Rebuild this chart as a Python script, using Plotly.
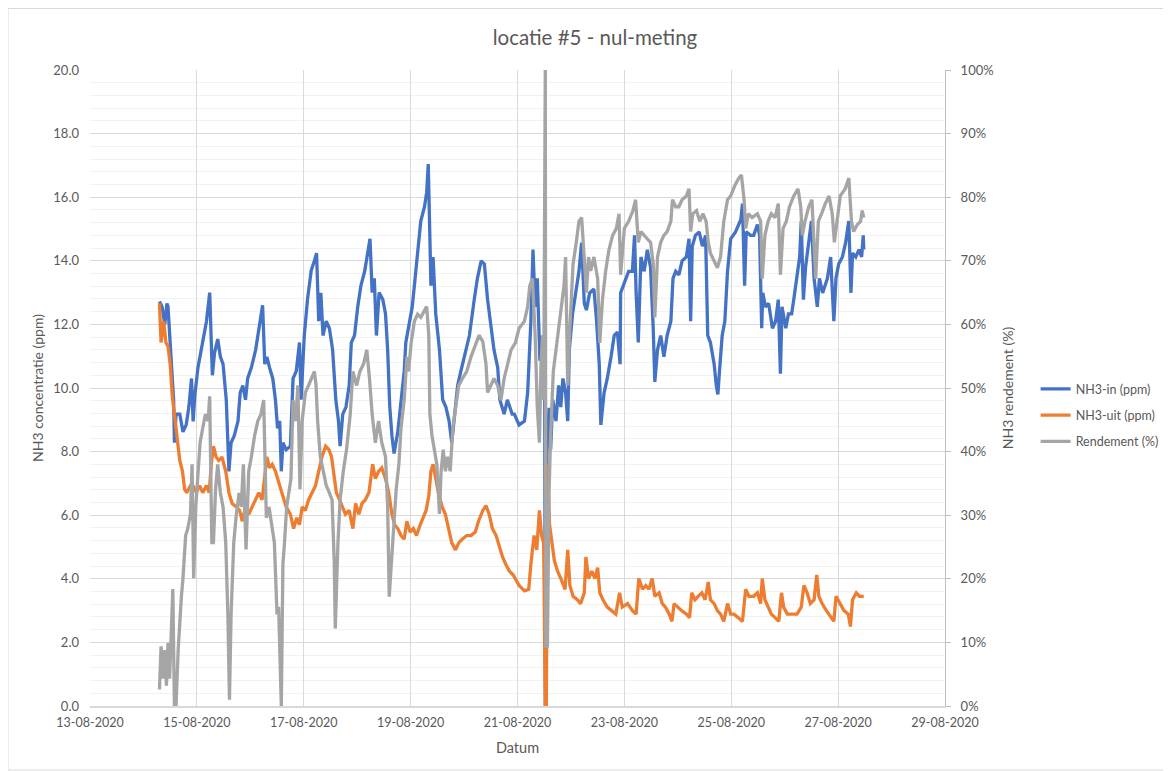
import plotly.graph_objects as go
from datetime import datetime, timedelta

# Time given as fractional day of August 2020
dag_in = [14.30, 14.35, 14.40, 14.44, 14.46, 14.50, 14.54, 14.565, 14.58, 14.61, 14.68, 14.74, 14.80, 14.85, 14.90, 14.93, 14.96,
          15.02, 15.11, 15.18, 15.24, 15.27, 15.29, 15.33, 15.39, 15.44, 15.49, 15.55, 15.60, 15.64, 15.70, 15.77, 15.81, 15.86,
          15.91, 15.95, 16.02, 16.10, 16.17, 16.23, 16.27, 16.31, 16.36, 16.42, 16.47, 16.51, 16.55, 16.58, 16.61, 16.67, 16.75,
          16.80, 16.86, 16.92, 16.95, 17.01, 17.07, 17.14, 17.20, 17.24, 17.28, 17.32, 17.36, 17.42, 17.48, 17.54, 17.60, 17.65,
          17.68, 17.73, 17.79, 17.85, 17.89, 17.95, 18.01, 18.07, 18.14, 18.18, 18.24, 18.28, 18.32, 18.36, 18.41, 18.48, 18.53,
          18.57, 18.61, 18.65, 18.69, 18.76, 18.82, 18.88, 18.91, 18.98, 19.03, 19.07, 19.13, 19.19, 19.26, 19.30, 19.33, 19.36,
          19.38, 19.42, 19.47, 19.54, 19.60, 19.66, 19.72, 19.77, 19.82, 19.88, 19.94, 20.00, 20.10, 20.19, 20.25, 20.32, 20.38,
          20.44, 20.50, 20.56, 20.63, 20.67, 20.75, 20.81, 20.90, 20.94, 21.03, 21.13, 21.19, 21.25, 21.29, 21.33, 21.37, 21.42,
          21.47, 21.51, 21.52, 21.55, 21.59, 21.62, 21.66, 21.72, 21.77, 21.81, 21.85, 21.90, 21.94, 21.97, 22.03, 22.09, 22.15,
          22.20, 22.25, 22.29, 22.35, 22.43, 22.48, 22.53, 22.56, 22.62, 22.68, 22.75, 22.81, 22.87, 22.92, 22.93, 23.00, 23.08,
          23.15, 23.19, 23.22, 23.26, 23.31, 23.37, 23.43, 23.49, 23.54, 23.57, 23.62, 23.68, 23.74, 23.80, 23.87, 23.91, 23.96,
          24.02, 24.08, 24.16, 24.21, 24.24, 24.27, 24.33, 24.40, 24.46, 24.52, 24.56, 24.61, 24.68, 24.72, 24.75, 24.78, 24.83,
          24.88, 24.93, 24.99, 25.08, 25.18, 25.21, 25.25, 25.28, 25.36, 25.42, 25.49, 25.53, 25.57, 25.59, 25.64, 25.70, 25.77,
          25.83, 25.88, 25.92, 25.95, 26.02, 26.07, 26.13, 26.17, 26.23, 26.28, 26.31, 26.35, 26.39, 26.45, 26.50, 26.55, 26.61,
          26.65, 26.71, 26.80, 26.86, 26.92, 26.96, 27.01, 27.08, 27.14, 27.20, 27.24, 27.27, 27.33, 27.39, 27.44, 27.47, 27.48]
nh3_in = [12.72, 12.55, 12.0, 12.66, 12.55, 11.2, 10.3, 9.63, 8.28, 9.18, 9.18, 8.62, 8.84, 9.40, 10.3, 8.95, 9.74,
          10.64, 11.54, 12.1, 13.0, 11.2, 10.4, 11.1, 11.54, 10.98, 10.75, 9.63, 7.38, 8.28, 8.5, 8.96, 9.85, 10.08,
          9.63, 10.3, 10.64, 11.2, 11.99, 12.6, 10.75, 10.98, 10.64, 10.3, 9.63, 8.73, 8.96, 7.38, 8.28, 8.06, 8.17,
          10.3, 10.53, 11.43, 9.63, 11.65, 12.78, 13.7, 14.0, 14.24, 12.1, 12.99, 11.65, 12.1, 11.88, 11.2, 9.63, 8.96,
          8.17, 9.18, 9.4, 10.08, 11.43, 11.65, 12.55, 13.22, 13.67, 14.12, 14.69, 13.0, 13.45, 11.65, 13.0, 12.78, 12.33,
          11.2, 9.4, 8.5, 7.94, 8.62, 9.63, 10.53, 11.43, 12.1, 12.55, 13.22, 14.35, 15.25, 15.7, 16.15, 17.04, 15.25,
          13.22, 14.12, 12.33, 11.2, 9.63, 9.4, 8.96, 8.28, 9.18, 10.08, 10.53, 10.98, 11.65, 12.78, 13.45, 14.0, 13.9,
          12.78, 11.88, 11.2, 10.64, 9.63, 9.18, 9.63, 9.18, 9.18, 8.84, 8.96, 9.85, 12.1, 14.35, 12.55, 13.45, 10.86,
          11.65, 9.63, 0.0, 7.94, 9.38, 8.06, 9.63, 8.96, 10.08, 9.4, 10.3, 9.85, 8.96, 11.2, 12.33, 12.99, 13.67,
          14.57, 12.66, 12.45, 12.99, 13.11, 12.1, 10.75, 8.84, 9.85, 10.3, 10.98, 11.65, 11.76, 10.75, 12.99, 13.34, 13.67,
          13.67, 14.8, 12.99, 11.43, 14.12, 13.67, 14.35, 13.79, 11.88, 10.19, 11.2, 11.65, 10.98, 11.65, 12.1, 13.45, 13.67,
          13.56, 14.0, 14.12, 14.69, 12.1, 14.46, 14.8, 14.91, 14.46, 14.8, 11.65, 11.43, 10.75, 10.08, 9.8, 10.53, 11.65,
          12.1, 13.67, 14.69, 14.91, 15.3, 15.8, 13.22, 14.91, 14.8, 14.8, 15.14, 14.8, 11.88, 12.99, 12.55, 12.66, 11.88,
          12.1, 12.78, 10.45, 12.55, 11.88, 12.33, 12.33, 12.78, 13.45, 14.12, 15.25, 12.78, 13.79, 14.57, 15.25, 13.45, 12.55,
          13.45, 12.99, 13.45, 14.12, 12.1, 13.45, 13.9, 14.12, 14.57, 15.25, 12.99, 14.24, 14.12, 14.35, 14.12, 14.8, 14.35]

dag_uit = [14.30, 14.33, 14.38, 14.42, 14.46, 14.50, 14.54, 14.58, 14.63, 14.68, 14.73, 14.77, 14.81, 14.88, 14.94, 14.99,
           15.05, 15.11, 15.18, 15.23, 15.27, 15.31, 15.36, 15.41, 15.47, 15.54, 15.60, 15.66, 15.74, 15.80, 15.85, 15.91,
           15.97, 16.04, 16.10, 16.16, 16.22, 16.27, 16.31, 16.36, 16.41, 16.47, 16.55, 16.62, 16.67, 16.75, 16.81, 16.87,
           16.92, 16.97, 17.03, 17.09, 17.16, 17.22, 17.28, 17.34, 17.41, 17.47, 17.52, 17.56, 17.61, 17.67, 17.72, 17.78,
           17.85, 17.92, 17.97, 18.03, 18.09, 18.15, 18.22, 18.29, 18.34, 18.40, 18.46, 18.53, 18.59, 18.65, 18.70, 18.76,
           18.82, 18.88, 18.93, 18.99, 19.05, 19.11, 19.18, 19.24, 19.29, 19.34, 19.38, 19.42, 19.47, 19.52, 19.59, 19.65,
           19.71, 19.77, 19.84, 19.90, 19.97, 20.05, 20.13, 20.21, 20.27, 20.35, 20.41, 20.47, 20.53, 20.60, 20.66, 20.72,
           20.78, 20.85, 20.92, 20.98, 21.03, 21.13, 21.21, 21.25, 21.31, 21.36, 21.41, 21.45, 21.49, 21.52, 21.54, 21.56,
           21.60, 21.69, 21.75, 21.81, 21.89, 21.94, 21.98, 22.04, 22.12, 22.18, 22.25, 22.28, 22.33, 22.39, 22.45, 22.50,
           22.54, 22.60, 22.68, 22.76, 22.84, 22.91, 22.96, 23.06, 23.15, 23.22, 23.27, 23.34, 23.40, 23.46, 23.52, 23.57,
           23.65, 23.71, 23.77, 23.84, 23.89, 23.93, 23.99, 24.07, 24.16, 24.22, 24.26, 24.32, 24.38, 24.45, 24.51, 24.57,
           24.61, 24.68, 24.74, 24.80, 24.86, 24.93, 24.99, 25.05, 25.13, 25.21, 25.27, 25.33, 25.42, 25.49, 25.55, 25.58,
           25.63, 25.69, 25.75, 25.82, 25.89, 25.94, 25.98, 26.05, 26.14, 26.23, 26.31, 26.36, 26.42, 26.48, 26.55, 26.60,
           26.64, 26.70, 26.78, 26.86, 26.92, 26.96, 27.03, 27.11, 27.19, 27.23, 27.27, 27.34, 27.40, 27.48]
nh3_uit = [12.66, 11.43, 12.1, 11.43, 11.31, 10.75, 9.74, 9.18, 8.5, 7.72, 7.38, 6.82, 6.71, 6.93, 6.9, 6.71,
           6.93, 6.71, 6.93, 6.71, 7.6, 8.17, 7.83, 7.72, 7.83, 7.38, 6.71, 6.37, 6.26, 6.15, 5.81, 6.26,
           6.03, 6.26, 6.48, 6.71, 6.48, 7.38, 7.83, 7.49, 7.6, 7.38, 6.93, 6.48, 6.26, 6.03, 5.58, 5.92,
           5.7, 6.26, 6.15, 6.48, 6.71, 6.93, 7.38, 7.83, 8.17, 8.06, 7.83, 7.38, 6.71, 6.48, 6.26, 6.03,
           6.15, 5.58, 6.37, 6.03, 6.37, 6.48, 6.71, 7.6, 7.15, 7.38, 7.49, 7.15, 6.71, 6.03, 5.7, 5.58,
           5.36, 5.25, 5.81, 5.47, 5.58, 5.36, 5.7, 5.92, 6.15, 6.6, 7.38, 7.6, 7.15, 6.71, 6.26, 6.03,
           5.58, 5.13, 4.91, 5.13, 5.25, 5.36, 5.36, 5.47, 5.81, 6.15, 6.3, 6.03, 5.58, 5.36, 5.02, 4.69,
           4.46, 4.24, 4.12, 3.95, 3.79, 3.62, 3.67, 4.46, 5.36, 4.91, 6.15, 5.36, 5.13, 0.0, 0.0, 7.6,
           5.7, 4.57, 4.24, 4.01, 3.67, 4.91, 3.79, 3.45, 3.34, 3.22, 3.56, 4.69, 4.01, 4.24, 4.01, 4.35,
           3.56, 3.34, 3.11, 3.0, 2.89, 3.56, 3.11, 3.22, 3.0, 2.89, 4.01, 3.67, 3.79, 3.67, 4.01, 3.45,
           3.56, 3.22, 3.11, 2.89, 2.66, 3.22, 3.11, 3.0, 2.89, 2.78, 3.56, 3.34, 3.45, 3.56, 3.34, 3.9,
           3.34, 3.22, 3.0, 2.89, 2.66, 3.22, 2.89, 2.89, 2.78, 2.66, 3.67, 3.45, 3.45, 3.56, 3.22, 4.01,
           3.34, 3.11, 2.89, 2.78, 2.66, 3.56, 3.11, 2.89, 2.89, 2.89, 3.11, 3.79, 3.56, 3.22, 3.34, 4.12,
           3.45, 3.22, 3.0, 2.78, 2.66, 3.45, 3.22, 3.0, 2.89, 2.5, 3.34, 3.56, 3.45, 3.45]

dag_rend = [14.30, 14.33, 14.36, 14.40, 14.43, 14.46, 14.49, 14.52, 14.55, 14.58, 14.61, 14.65, 14.68, 14.71, 14.74, 14.79,
            14.83, 14.88, 14.91, 14.94, 14.98, 15.02, 15.06, 15.11, 15.16, 15.21, 15.24, 15.26, 15.28, 15.31, 15.35, 15.39,
            15.44, 15.49, 15.54, 15.58, 15.61, 15.64, 15.69, 15.74, 15.79, 15.83, 15.87, 15.92, 15.97, 16.02, 16.08, 16.14,
            16.20, 16.25, 16.27, 16.30, 16.35, 16.41, 16.45, 16.50, 16.53, 16.58, 16.61, 16.64, 16.68, 16.72, 16.76, 16.80,
            16.85, 16.89, 16.93, 16.97, 17.03, 17.09, 17.14, 17.20, 17.23, 17.26, 17.31, 17.36, 17.42, 17.48, 17.53, 17.57,
            17.59, 17.64, 17.68, 17.74, 17.80, 17.87, 17.92, 17.99, 18.05, 18.12, 18.18, 18.23, 18.28, 18.34, 18.40, 18.46,
            18.53, 18.57, 18.60, 18.63, 18.68, 18.73, 18.78, 18.82, 18.88, 18.93, 18.96, 19.01, 19.07, 19.13, 19.19, 19.26,
            19.30, 19.34, 19.36, 19.40, 19.44, 19.49, 19.54, 19.57, 19.61, 19.65, 19.69, 19.74, 19.79, 19.84, 19.90, 19.97,
            20.05, 20.13, 20.21, 20.28, 20.35, 20.41, 20.44, 20.50, 20.56, 20.63, 20.69, 20.75, 20.81, 20.88, 20.96, 21.03,
            21.13, 21.19, 21.23, 21.28, 21.33, 21.37, 21.41, 21.44, 21.47, 21.49, 21.52, 21.53, 21.56, 21.59, 21.62, 21.67,
            21.72, 21.77, 21.83, 21.87, 21.90, 21.94, 21.98, 22.04, 22.10, 22.15, 22.20, 22.25, 22.29, 22.33, 22.37, 22.43,
            22.50, 22.54, 22.59, 22.65, 22.71, 22.78, 22.85, 22.90, 22.93, 23.00, 23.08, 23.16, 23.21, 23.26, 23.31, 23.37,
            23.43, 23.49, 23.54, 23.57, 23.62, 23.68, 23.74, 23.80, 23.87, 23.90, 23.96, 24.02, 24.08, 24.16, 24.21, 24.24,
            24.28, 24.35, 24.41, 24.47, 24.53, 24.57, 24.61, 24.68, 24.74, 24.80, 24.86, 24.93, 24.99, 25.07, 25.14, 25.19,
            25.24, 25.27, 25.32, 25.39, 25.49, 25.55, 25.58, 25.63, 25.69, 25.75, 25.82, 25.88, 25.92, 25.97, 26.03, 26.09,
            26.17, 26.25, 26.30, 26.33, 26.38, 26.45, 26.51, 26.58, 26.63, 26.69, 26.76, 26.83, 26.89, 26.93, 26.98, 27.04,
            27.13, 27.20, 27.25, 27.29, 27.36, 27.42, 27.45, 27.48]
rendement = [2.6, 9.4, 4.3, 8.8, 3.2, 9.9, 4.3, 12.2, 18.4, 0.0, 0.0, 8.8, 14.4, 17.2, 20.1, 26.8,
             27.9, 30.2, 38.0, 20.1, 31.3, 36.9, 41.4, 43.7, 45.9, 44.8, 48.7, 36.9, 25.7, 25.7, 34.1, 38.0,
             33.5, 31.3, 25.7, 14.4, 1.0, 14.4, 25.7, 30.2, 33.5, 31.3, 38.0, 24.6, 36.9, 39.2, 42.5, 44.8,
             45.9, 48.1, 39.2, 29.6, 31.3, 27.9, 25.7, 14.4, 15.6, 0.0, 22.3, 25.7, 31.3, 33.5, 35.7, 48.1,
             44.8, 50.4, 34.1, 44.8, 49.3, 50.4, 51.5, 52.6, 50.4, 44.8, 39.2, 36.9, 34.7, 33.5, 32.4, 22.9,
             12.2, 25.7, 32.4, 36.9, 40.3, 45.9, 52.6, 50.4, 52.6, 53.8, 56.0, 51.5, 45.9, 41.4, 44.8, 41.4,
             39.2, 31.3, 17.2, 21.2, 27.9, 34.1, 38.0, 43.7, 48.1, 54.9, 52.6, 57.1, 60.5, 61.6, 61.1, 62.2,
             62.8, 58.3, 45.9, 42.5, 40.3, 38.0, 30.2, 36.9, 40.3, 36.9, 39.2, 36.9, 43.7, 47.0, 50.4, 51.5,
             52.6, 54.9, 56.6, 58.3, 57.3, 53.8, 49.3, 50.4, 51.5, 50.4, 48.1, 51.5, 53.8, 56.0, 57.1, 59.4,
             60.5, 62.8, 66.1, 67.2, 58.3, 47.0, 41.4, 53.8, 58.3, 48.1, 100.0, 9.4, 9.4, 33.5, 42.5, 52.6,
             56.0, 59.4, 62.8, 66.1, 70.6, 50.4, 59.4, 69.5, 72.9, 76.2, 76.8, 70.6, 65.0, 70.6, 68.4, 70.6,
             67.2, 57.1, 63.9, 68.4, 71.7, 74.0, 75.1, 77.4, 67.8, 75.1, 76.2, 77.9, 79.6, 72.9, 74.6, 74.0,
             73.4, 72.9, 69.5, 61.1, 70.6, 72.9, 74.0, 74.6, 76.2, 79.6, 78.5, 78.5, 79.6, 80.2, 81.3, 74.6,
             77.4, 77.9, 76.2, 77.4, 76.2, 72.9, 71.2, 70.0, 68.9, 70.6, 76.2, 79.6, 80.2, 81.9, 83.0, 83.5,
             79.6, 75.1, 77.4, 76.8, 77.4, 76.2, 67.2, 74.0, 76.2, 77.4, 76.8, 79.0, 67.8, 75.1, 76.2, 78.5,
             80.2, 81.3, 78.5, 74.0, 76.2, 78.5, 79.6, 67.2, 76.2, 77.4, 79.0, 80.2, 77.4, 72.9, 76.2, 80.2,
             81.3, 83.0, 76.2, 74.6, 75.7, 76.2, 77.9, 76.8]

x_range = ["2020-08-13", "2020-08-29"]


def to_dt(days):
    return [datetime(2020, 8, 1) + timedelta(days=d - 1) for d in days]


FONT = "Lato"
TXT = "#595959"
GRID = "#D9D9D9"

fig = go.Figure()
fig.add_trace(go.Scatter(x=to_dt(dag_in), y=nh3_in, name="NH3-in (ppm)", mode="lines",
                         line=dict(color="#4472C4", width=3.3), legendgroup="a"))
fig.add_trace(go.Scatter(x=to_dt(dag_uit), y=nh3_uit, name="NH3-uit (ppm)", mode="lines",
                         line=dict(color="#ED7D31", width=3.3), legendgroup="b"))
fig.add_trace(go.Scatter(x=to_dt(dag_rend), y=rendement, name="Rendement (%)", mode="lines",
                         line=dict(color="#A5A5A5", width=3.3), yaxis="y2", legendgroup="c"))

# page has an 8px body margin, so the figure is 8px smaller than the window
fig.update_layout(
    width=1163, height=763,
    margin=dict(l=82, r=226, t=62, b=65, autoexpand=False),
    paper_bgcolor="white", plot_bgcolor="white",
    font=dict(family=FONT, color=TXT, size=12),
    title=dict(text="locatie #5 - nul-meting", x=0.5047, xanchor="center", xref="container",
               y=0.9607, yanchor="middle", font=dict(size=20.5, color=TXT, family=FONT)),
    xaxis=dict(type="date", range=x_range, tick0="2020-08-13", dtick=2 * 86400000,
               tickformat="%d-%m-%Y", showgrid=True, gridcolor=GRID, gridwidth=1,
               showline=True, linecolor=GRID, linewidth=1.5, ticks="", zeroline=False,
               ticklabelstandoff=4, automargin=False,
               tickfont=dict(size=12.5, color=TXT),
               title=dict(text="Datum", font=dict(size=14.5, color=TXT), standoff=14)),
    yaxis=dict(range=[0, 20], dtick=2, tickformat=".1f", showgrid=True, gridcolor=GRID, gridwidth=1,
               minor=dict(dtick=0.4, showgrid=True, gridcolor="#F2F2F2", gridwidth=1),
               zeroline=False, showline=False, ticks="", ticklabelstandoff=10, automargin=False,
               tickfont=dict(size=13, color=TXT),
               title=dict(text="NH3 concentratie (ppm)", font=dict(size=14, color=TXT), standoff=6)),
    yaxis2=dict(range=[0, 100], dtick=10, ticksuffix="%", overlaying="y", side="right",
                showgrid=False, zeroline=False, showline=True, linecolor="#BFBFBF", linewidth=1,
                ticks="outside", ticklen=5, tickcolor="#BFBFBF", ticklabelstandoff=7, automargin=False,
                tickfont=dict(size=13, color=TXT),
                title=dict(text="NH3 rendement (%)", font=dict(size=14, color=TXT), standoff=10)),
    legend=dict(x=1.106, xanchor="left", y=0.457, yanchor="middle", bgcolor="rgba(0,0,0,0)",
                font=dict(size=12.5, color=TXT), tracegroupgap=7, itemwidth=30),
    showlegend=True,
)

# outer chart border
fig.add_shape(type="rect", xref="paper", yref="paper",
              x0=(8 - 90) / 855, x1=(1170 - 90) / 855, y0=(706 - 770) / 636.5, y1=(706 - 8) / 636.5,
              line=dict(color="#D9D9D9", width=1), fillcolor="rgba(0,0,0,0)", layer="below")

fig.write_html("out.html")
